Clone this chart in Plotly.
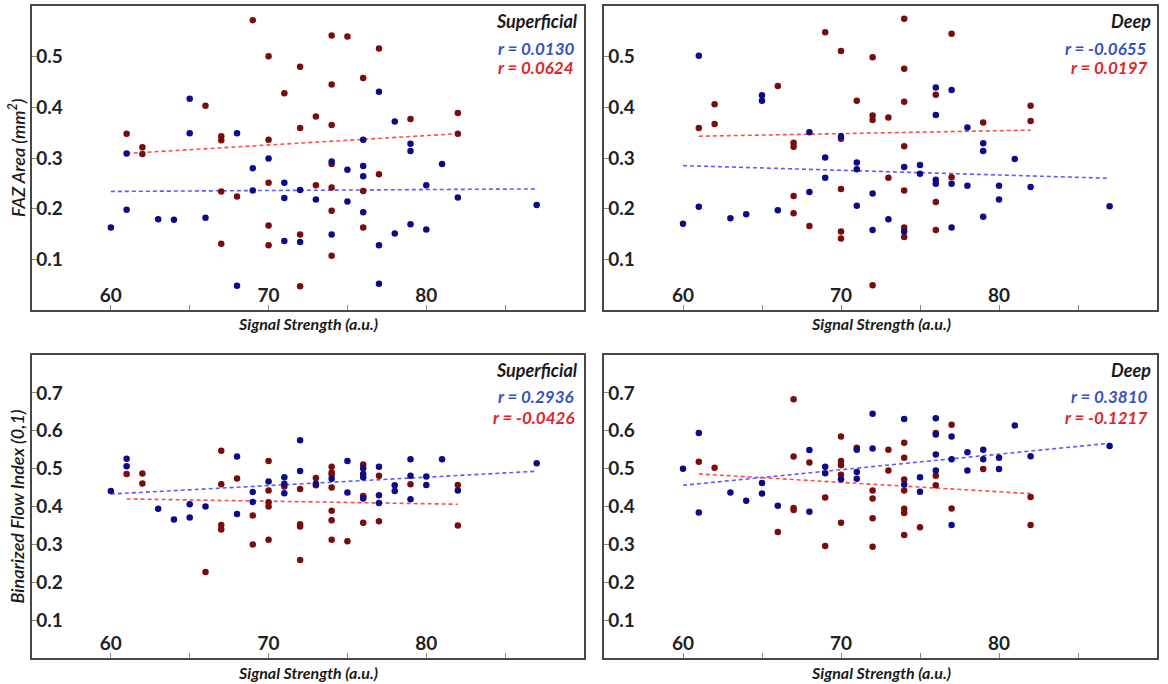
import plotly.graph_objects as go

W, H = 1168, 684

# ---------------- data ----------------
# Panel A: FAZ area, superficial
a_red_x = [69,70,71,66,61,62,62,67,67,70,67,68,70,70,70,67,72,72,72,72,
           74,75,77,74,76,73,74,79,82,82,74,77,73,74,76,74,76,74]
a_red_y = [0.572,0.501,0.428,0.403,0.348,0.321,0.308,0.343,0.335,0.336,0.234,0.224,0.251,0.167,0.128,0.131,0.480,0.359,0.149,0.047,
           0.542,0.540,0.516,0.445,0.458,0.382,0.365,0.377,0.389,0.348,0.288,0.268,0.246,0.242,0.235,0.196,0.163,0.107]
a_blue_x = [65,65,68,61,70,69,69,71,71,72,61,60,63,64,66,71,72,68,
            77,78,76,79,79,74,81,75,76,76,80,73,75,82,87,76,79,80,78,74,77,77]
a_blue_y = [0.417,0.349,0.349,0.309,0.299,0.280,0.236,0.251,0.221,0.237,0.198,0.163,0.179,0.178,0.182,0.136,0.134,0.048,
            0.431,0.372,0.336,0.328,0.314,0.293,0.288,0.277,0.284,0.264,0.246,0.218,0.214,0.222,0.207,0.193,0.169,0.159,0.151,0.149,0.128,0.052]
a_fit_blue_x, a_fit_blue_y = [60, 87], [0.234, 0.239]
a_fit_red_x, a_fit_red_y = [61, 82], [0.309, 0.348]

# Panel B: FAZ area, deep
b_red_x = [69,70,72,66,62,62,61,71,72,72,73,67,67,70,73,67,67,70,68,70,70,72,
           74,77,74,76,74,82,82,79,74,77,74,76,74,74,76]
b_red_y = [0.548,0.511,0.499,0.442,0.406,0.367,0.359,0.413,0.384,0.375,0.380,0.330,0.322,0.338,0.261,0.225,0.191,0.239,0.166,0.155,0.141,0.049,
           0.575,0.545,0.476,0.425,0.411,0.403,0.373,0.370,0.323,0.262,0.236,0.213,0.163,0.144,0.158]
b_blue_x = [61,65,65,68,70,69,71,71,69,68,72,61,71,66,60,63,64,73,72,
            76,77,76,78,79,79,81,74,75,75,76,76,77,78,80,82,80,87,79,77,74]
b_blue_y = [0.502,0.424,0.413,0.351,0.343,0.301,0.291,0.278,0.261,0.233,0.230,0.204,0.206,0.197,0.170,0.181,0.189,0.179,0.158,
            0.439,0.434,0.385,0.360,0.329,0.314,0.298,0.282,0.286,0.269,0.257,0.249,0.249,0.245,0.245,0.243,0.218,0.205,0.184,0.163,0.155]
b_fit_blue_x, b_fit_blue_y = [60, 87], [0.285, 0.260]
b_fit_red_x, b_fit_red_y = [61, 82], [0.343, 0.355]

# Panel C: binarized flow index, superficial
c_red_x = [67,70,61,62,62,67,68,70,70,70,71,72,69,67,67,69,70,66,72,72,72,
           73,73,74,74,74,74,74,74,74,75,76,76,76,76,77,77,79,82,82]
c_red_y = [0.547,0.520,0.486,0.487,0.461,0.459,0.474,0.442,0.411,0.400,0.453,0.446,0.376,0.351,0.339,0.300,0.312,0.227,0.353,0.347,0.259,
           0.475,0.456,0.505,0.490,0.484,0.450,0.389,0.364,0.312,0.308,0.511,0.428,0.426,0.357,0.481,0.361,0.459,0.457,0.350]
c_blue_x = [72,68,61,61,72,70,71,71,71,60,69,69,63,64,65,65,66,68,
            73,74,75,75,76,76,76,76,77,77,77,78,78,79,79,79,80,80,81,82,87]
c_blue_y = [0.575,0.532,0.526,0.506,0.494,0.466,0.477,0.460,0.435,0.441,0.438,0.412,0.394,0.366,0.406,0.371,0.400,0.380,
            0.460,0.473,0.520,0.437,0.501,0.486,0.477,0.421,0.505,0.430,0.409,0.456,0.441,0.525,0.481,0.419,0.479,0.457,0.525,0.442,0.514]
c_fit_blue_x, c_fit_blue_y = [60, 87], [0.433, 0.493]
c_fit_red_x, c_fit_red_y = [61, 82], [0.420, 0.406]

# Panel D: binarized flow index, deep
d_red_x = [67,70,71,67,61,62,68,70,70,70,73,73,72,72,72,72,69,67,67,70,66,69,
           77,76,74,74,79,76,76,74,74,74,74,77,82,82,75,74]
d_red_y = [0.683,0.585,0.555,0.532,0.518,0.502,0.516,0.520,0.509,0.484,0.550,0.495,0.442,0.421,0.369,0.294,0.424,0.396,0.391,0.357,0.333,0.296,
           0.616,0.594,0.568,0.529,0.499,0.481,0.456,0.471,0.442,0.394,0.383,0.395,0.425,0.351,0.345,0.325]
d_blue_x = [72,61,72,71,68,60,69,69,70,71,71,65,65,63,64,66,61,68,
            74,76,76,77,81,74,76,76,77,78,79,79,78,80,80,75,75,82,87,77]
d_blue_y = [0.645,0.594,0.553,0.550,0.549,0.500,0.505,0.488,0.472,0.491,0.473,0.462,0.434,0.437,0.415,0.402,0.384,0.386,
            0.631,0.633,0.590,0.585,0.614,0.458,0.537,0.495,0.525,0.543,0.550,0.525,0.495,0.529,0.499,0.477,0.439,0.533,0.560,0.351]
d_fit_blue_x, d_fit_blue_y = [60, 87], [0.456, 0.567]
d_fit_red_x, d_fit_red_y = [61, 82], [0.486, 0.434]

panel_titles = ["Superficial", "Deep", "Superficial", "Deep"]
r_blue = ["r = 0.0130", "r = -0.0655", "r = 0.2936", "r = 0.3810"]
r_red = ["r = 0.0624", "r = 0.0197", "r = -0.0426", "r = -0.1217"]
x_title = "Signal Strength (a.u.)"
y_titles = ["FAZ Area (mm<sup>2</sup>)", "Binarized Flow Index (0,1)"]
x_tickvals = [60, 70, 80]
x_minor_tickvals = [65, 75, 85]
y_ticks_top = [0.1, 0.2, 0.3, 0.4, 0.5]
y_ticks_bot = [0.1, 0.2, 0.3, 0.4, 0.5, 0.6, 0.7]

# ---------------- style ----------------
FONT = "Lato, 'Open Sans', sans-serif"
BLUE_PT = "#0b0b8a"
RED_PT = "#7a0c0c"
BLUE_LN = "#5b5bff"
RED_LN = "#ff4a4a"
BLUE_TX = "#3553c2"
RED_TX = "#e0262b"
FRAME = "#474747"

def px2x(p):
    return p / W

def px2y(p):
    return 1 - p / H

panels = [
    dict(data=(a_red_x, a_red_y, a_blue_x, a_blue_y, a_fit_blue_x, a_fit_blue_y, a_fit_red_x, a_fit_red_y),
         xd=(32, 584), yd=(6, 310), yr=[0, 0.6], yt=y_ticks_top),
    dict(data=(b_red_x, b_red_y, b_blue_x, b_blue_y, b_fit_blue_x, b_fit_blue_y, b_fit_red_x, b_fit_red_y),
         xd=(604, 1157), yd=(6, 310), yr=[0, 0.6], yt=y_ticks_top),
    dict(data=(c_red_x, c_red_y, c_blue_x, c_blue_y, c_fit_blue_x, c_fit_blue_y, c_fit_red_x, c_fit_red_y),
         xd=(32, 584), yd=(355, 658), yr=[0, 0.8], yt=y_ticks_bot),
    dict(data=(d_red_x, d_red_y, d_blue_x, d_blue_y, d_fit_blue_x, d_fit_blue_y, d_fit_red_x, d_fit_red_y),
         xd=(604, 1157), yd=(355, 658), yr=[0, 0.8], yt=y_ticks_bot),
]

fig = go.Figure()
annotations = []
layout_axes = {}

for i, p in enumerate(panels):
    n = "" if i == 0 else str(i + 1)
    xa, ya = "x" + n, "y" + n
    rx, ry, bx, by, fbx, fby, frx, fry = p["data"]
    fig.add_trace(go.Scatter(x=fbx, y=fby, mode="lines", xaxis=xa, yaxis=ya,
                             line=dict(color=BLUE_LN, width=1.6, dash="4px,3px"), showlegend=False, hoverinfo="skip"))
    fig.add_trace(go.Scatter(x=frx, y=fry, mode="lines", xaxis=xa, yaxis=ya,
                             line=dict(color=RED_LN, width=1.6, dash="4px,3px"), showlegend=False, hoverinfo="skip"))
    fig.add_trace(go.Scatter(x=rx, y=ry, mode="markers", xaxis=xa, yaxis=ya,
                             marker=dict(color=RED_PT, size=6.5, line=dict(width=0)), showlegend=False))
    fig.add_trace(go.Scatter(x=bx, y=by, mode="markers", xaxis=xa, yaxis=ya,
                             marker=dict(color=BLUE_PT, size=6.5, line=dict(width=0)), showlegend=False))

    x0, x1 = p["xd"]
    y0, y1 = p["yd"]
    layout_axes["xaxis" + n] = dict(
        domain=[px2x(x0), px2x(x1)], range=[55, 90], anchor=ya,
        showline=True, mirror=True, linecolor=FRAME, linewidth=2,
        showgrid=False, zeroline=False,
        tickmode="array", tickvals=x_tickvals, ticktext=[str(v) for v in x_tickvals],
        ticks="inside", ticklen=5, tickwidth=1, tickcolor="#888",
        minor=dict(tickmode="array", tickvals=x_minor_tickvals, ticks="inside",
                   ticklen=5, tickwidth=1, tickcolor="#888", showgrid=False),
        ticklabelposition="inside",
        tickfont=dict(family=FONT, size=19, color="#222", weight="bold"),
    )
    layout_axes["yaxis" + n] = dict(
        domain=[px2y(y1), px2y(y0)], range=p["yr"], anchor=xa,
        showline=True, mirror=True, linecolor=FRAME, linewidth=2,
        showgrid=False, zeroline=False,
        tickmode="array", tickvals=p["yt"], ticktext=[f"{v:.1f}" for v in p["yt"]],
        ticks="inside", ticklen=5, tickwidth=1, tickcolor="#888",
        ticklabelposition="inside",
        tickfont=dict(family=FONT, size=19, color="#222", weight="bold"),
    )

    # panel annotations
    right = x1 - 4
    annotations.append(dict(xref="paper", yref="paper", x=px2x(right), y=px2y(y0 + 15),
                            text=f"<b><i>{panel_titles[i]}</i></b>", showarrow=False,
                            xanchor="right", yanchor="middle",
                            font=dict(family=FONT, size=18, color="#1a1a1a")))
    annotations.append(dict(xref="paper", yref="paper", x=px2x(right - 4), y=px2y(y0 + 42),
                            text=f"<b><i>{r_blue[i]}</i></b>", showarrow=False,
                            xanchor="right", yanchor="middle",
                            font=dict(family=FONT, size=17, color=BLUE_TX)))
    annotations.append(dict(xref="paper", yref="paper", x=px2x(right - 4), y=px2y(y0 + 62),
                            text=f"<b><i>{r_red[i]}</i></b>", showarrow=False,
                            xanchor="right", yanchor="middle",
                            font=dict(family=FONT, size=17, color=RED_TX)))
    # x-axis title
    annotations.append(dict(xref="paper", yref="paper", x=px2x((x0 + x1) / 2), y=px2y(y1 + 14),
                            text=f"<b><i>{x_title}</i></b>", showarrow=False,
                            xanchor="center", yanchor="middle",
                            font=dict(family=FONT, size=16, color="#1a1a1a")))
    # y-axis title (left panels only)
    if i in (0, 2):
        annotations.append(dict(xref="paper", yref="paper", x=px2x(17), y=px2y((y0 + y1) / 2),
                                text=f"<i>{y_titles[i // 2]}</i>", showarrow=False, textangle=-90,
                                xanchor="center", yanchor="middle",
                                font=dict(family=FONT, size=18, color="#1a1a1a", weight=600)))

fig.update_layout(
    width=W, height=H,
    margin=dict(l=0, r=0, t=0, b=0),
    paper_bgcolor="white", plot_bgcolor="white",
    annotations=annotations,
    **layout_axes,
)

fig.write_html("out.html")
